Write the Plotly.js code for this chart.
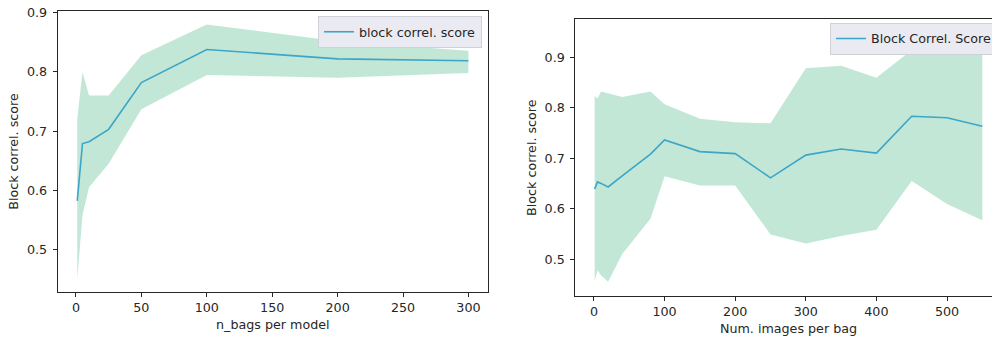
<!DOCTYPE html>
<html>
<head>
<meta charset="utf-8">
<script src="https://cdn.plot.ly/plotly-3.0.1.min.js"></script>
<style>
html,body{margin:0;padding:0;overflow:hidden;background:#fff;width:992px;height:337px;}
#chart{width:1010px;height:337px;}
</style>
</head>
<body>
<div id="chart"></div>
<script>
// Left panel: n_bags per model
const bagsX = [1, 5, 10, 25, 50, 100, 200, 300];
const bagsMean = [0.582, 0.679, 0.682, 0.703, 0.782, 0.838, 0.822, 0.819];
const bagsUpper = [0.721, 0.800, 0.760, 0.760, 0.828, 0.880, 0.852, 0.836];
const bagsLower = [0.450, 0.558, 0.605, 0.645, 0.737, 0.795, 0.790, 0.798];

// Right panel: num. images per bag
const imgX = [1, 5, 10, 20, 40, 80, 100, 150, 200, 250, 300, 350, 400, 450, 500, 550];
const imgMean = [0.639, 0.653, 0.650, 0.643, 0.665, 0.708, 0.736, 0.713, 0.709, 0.661, 0.706, 0.718, 0.710, 0.783, 0.780, 0.763];
const imgUpper = [0.823, 0.818, 0.832, 0.828, 0.821, 0.832, 0.807, 0.778, 0.771, 0.769, 0.878, 0.883, 0.859, 0.914, 0.945, 0.950];
const imgLower = [0.456, 0.478, 0.468, 0.455, 0.510, 0.580, 0.664, 0.646, 0.646, 0.549, 0.531, 0.546, 0.558, 0.655, 0.609, 0.577];

const leftLabel = 'block correl. score';
const rightLabel = 'Block Correl. Score';

const lineColor = '#3ba6c8';
const fillColor = 'rgba(165,220,195,0.68)';
const W = 1010, H = 337;
const font = {family: 'DejaVu Sans, sans-serif', size: 12.7, color: '#262626'};

const traces = [
  {x: bagsX, y: bagsLower, xaxis: 'x', yaxis: 'y', mode: 'lines', line: {width: 0, color: fillColor}, showlegend: false, hoverinfo: 'skip'},
  {x: bagsX, y: bagsUpper, xaxis: 'x', yaxis: 'y', mode: 'lines', line: {width: 0, color: fillColor}, fill: 'tonexty', fillcolor: fillColor, showlegend: false, hoverinfo: 'skip'},
  {x: bagsX, y: bagsMean, xaxis: 'x', yaxis: 'y', mode: 'lines', line: {width: 1.6, color: lineColor}, name: leftLabel, legend: 'legend'},
  {x: imgX, y: imgLower, xaxis: 'x2', yaxis: 'y2', mode: 'lines', line: {width: 0, color: fillColor}, showlegend: false, hoverinfo: 'skip'},
  {x: imgX, y: imgUpper, xaxis: 'x2', yaxis: 'y2', mode: 'lines', line: {width: 0, color: fillColor}, fill: 'tonexty', fillcolor: fillColor, showlegend: false, hoverinfo: 'skip'},
  {x: imgX, y: imgMean, xaxis: 'x2', yaxis: 'y2', mode: 'lines', line: {width: 1.6, color: lineColor}, name: rightLabel, legend: 'legend2'}
];

const axisCommon = {
  showgrid: false, zeroline: false, showline: true, mirror: true,
  linecolor: '#262626', linewidth: 1, ticks: 'outside', ticklen: 4,
  tickcolor: '#262626', tickwidth: 1, tickfont: font
};

const legendCommon = {
  bgcolor: '#eaeaf2', bordercolor: '#d0d0d8', borderwidth: 1,
  font: font, yanchor: 'top', itemwidth: 30, tracegroupgap: 0
};

const layout = {
  width: W, height: H,
  margin: {l: 0, r: 0, t: 0, b: 0},
  paper_bgcolor: '#fff', plot_bgcolor: '#fff',
  font: font,
  xaxis: Object.assign({}, axisCommon, {
    domain: [57.7 / W, 488 / W], anchor: 'y',
    range: [-13.95, 314.95], tickvals: [0, 50, 100, 150, 200, 250, 300],
    title: {text: 'n_bags per model', font: font, standoff: 5}
  }),
  yaxis: Object.assign({}, axisCommon, {
    domain: [(H - 292) / H, (H - 11) / H], anchor: 'x',
    range: [0.428, 0.903], tickvals: [0.5, 0.6, 0.7, 0.8, 0.9], tickformat: '.1f',
    ticklabelstandoff: 3,
    title: {text: 'Block correl. score', font: font, standoff: 5}
  }),
  xaxis2: Object.assign({}, axisCommon, {
    domain: [575.3 / W, 1001.7 / W], anchor: 'y2',
    range: [-26.45, 577.45], tickvals: [0, 100, 200, 300, 400, 500],
    title: {text: 'Num. images per bag', font: font, standoff: 5}
  }),
  yaxis2: Object.assign({}, axisCommon, {
    domain: [(H - 296) / H, (H - 19.3) / H], anchor: 'x2',
    range: [0.427, 0.975], tickvals: [0.5, 0.6, 0.7, 0.8, 0.9], tickformat: '.1f',
    ticklabelstandoff: 3,
    title: {text: 'Block correl. score', font: font, standoff: 5}
  }),
  legend: Object.assign({}, legendCommon, {x: 482 / W, xanchor: 'right', y: 1 - 16 / H}),
  legend2: Object.assign({}, legendCommon, {x: 830 / W, xanchor: 'left', y: 1 - 22.7 / H})
};

Plotly.newPlot('chart', traces, layout, {displayModeBar: false, staticPlot: true});
</script>
</body>
</html>
